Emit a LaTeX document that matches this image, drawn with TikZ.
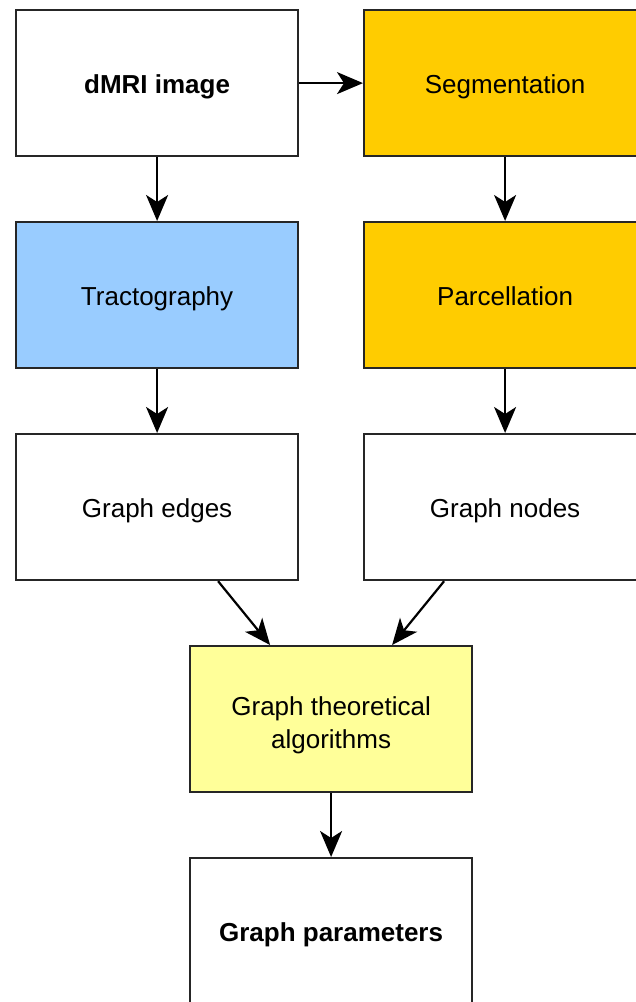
\documentclass[tikz,border=0pt]{standalone}
\usepackage{fontspec}
\setmainfont{Liberation Sans}
\usetikzlibrary{arrows.meta}
\definecolor{segcol}{HTML}{FFCC00}
\definecolor{tractcol}{HTML}{99CCFF}
\definecolor{algcol}{HTML}{FFFF99}
\begin{document}
\begin{tikzpicture}[x=1pt,y=-1pt,
  box/.style={draw=black!85, line width=2.2pt, minimum width=282pt, minimum height=146pt, inner sep=0pt, align=center, font=\fontsize{26pt}{33pt}\selectfont, anchor=north west},
  one/.style={text height=22pt, text depth=2pt},
  arr/.style={line width=2.2pt, -{Stealth[length=26pt,width=22pt,inset=7pt]}}]
\useasboundingbox (0,0) rectangle (636,1002);
\clip (0,0) rectangle (636,1002);
\node[box, one, fill=white] (dmri) at (15,9) {\textbf{dMRI image}};
\node[box, one, fill=segcol] (seg) at (363,9) {Segmentation};
\node[box, one, fill=tractcol] (tract) at (15,221) {Tractography};
\node[box, one, fill=segcol] (parc) at (363,221) {Parcellation};
\node[box, one, fill=white] (edges) at (15,433) {Graph edges};
\node[box, one, fill=white] (gnodes) at (363,433) {Graph nodes};
\node[box, fill=algcol] (alg) at (189,645) {\rule{0pt}{32pt}Graph theoretical\\algorithms};
\node[box, one, fill=white] (params) at (189,857) {\textbf{Graph parameters}};
\draw[arr] (dmri.east) -- (seg.west);
\draw[arr] (dmri.south) -- (tract.north);
\draw[arr] (seg.south) -- (parc.north);
\draw[arr] (tract.south) -- (edges.north);
\draw[arr] (parc.south) -- (gnodes.north);
\draw[arr] ([xshift=61pt]edges.south) -- ([xshift=-61pt]alg.north);
\draw[arr] ([xshift=-61pt]gnodes.south) -- ([xshift=61pt]alg.north);
\draw[arr] (alg.south) -- (params.north);
\end{tikzpicture}
\end{document}
